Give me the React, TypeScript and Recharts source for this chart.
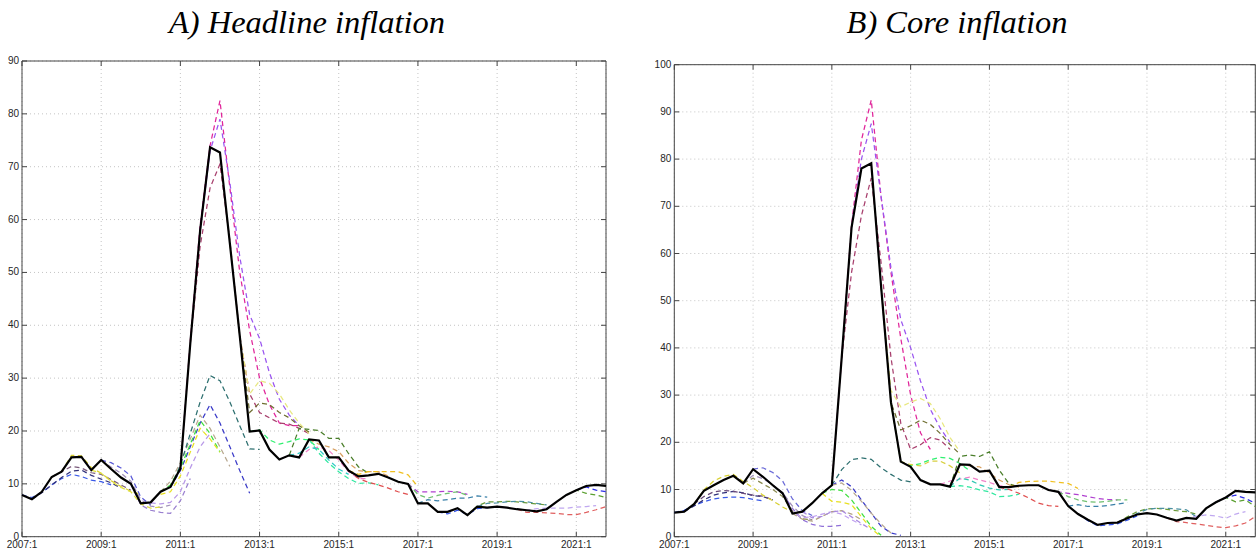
import { LineChart, Line, XAxis, YAxis, CartesianGrid, ReferenceArea } from 'recharts';

// quarters 2007:1 .. 2021:4 -> index 0..59
const tickQuarters = [0, 8, 16, 24, 32, 40, 48, 56];
const tickLabels = ['2007:1', '2009:1', '2011:1', '2013:1', '2015:1', '2017:1', '2019:1', '2021:1'];
const headlineYTicks = [0, 10, 20, 30, 40, 50, 60, 70, 80, 90];
const coreYTicks = [0, 10, 20, 30, 40, 50, 60, 70, 80, 90, 100];

const headlineActual = [
  7.9, 7.1, 8.5, 11.3, 12.3, 15.0, 15.1, 12.6, 14.5, 12.8,
  11.2, 10.0, 6.3, 6.5, 8.5, 9.4, 12.9, 36.5, 58.0, 73.7,
  72.7, 55.5, 38.0, 19.9, 20.1, 16.5, 14.6, 15.4, 15.0, 18.4,
  18.2, 15.0, 15.0, 12.5, 11.4, 11.6, 11.9, 11.2, 10.4, 10.0,
  6.3, 6.3, 4.7, 4.7, 5.4, 4.1, 5.7, 5.5, 5.7, 5.5,
  5.2, 5.0, 4.8, 5.2, 6.6, 7.9, 8.8, 9.6, 9.8, 9.6,
];

const coreActual = [
  5.1, 5.3, 6.9, 9.7, 10.9, 12.0, 12.9, 11.3, 14.3, 12.7,
  10.9, 9.2, 4.9, 5.3, 7.1, 9.2, 10.9, 38.0, 65.5, 78.0,
  79.1, 53.0, 28.5, 15.9, 14.8, 12.0, 11.1, 11.1, 10.6, 15.3,
  15.2, 13.8, 14.0, 10.5, 10.5, 10.8, 10.9, 10.9, 9.9, 9.5,
  6.5, 4.8, 3.6, 2.5, 2.9, 3.0, 3.9, 4.7, 5.0, 4.7,
  4.0, 3.4, 4.0, 3.8, 6.0, 7.3, 8.3, 9.7, 9.5, 9.4,
];

type Forecast = { start: number; values: number[] };

// forecast vintages: first quarter index + path
const headlineForecasts: Forecast[] = [
  { start: 0, values: [7.9, 7.4, 8.4, 9.8, 11.0, 11.8, 11.4, 10.7, 10.4, 9.8] },
  { start: 1, values: [7.1, 8.3, 9.8, 11.2, 12.4, 12.6, 11.6, 10.9, 10.2, 9.2] },
  { start: 3, values: [11.3, 12.3, 13.3, 13.0, 12.1, 11.8, 10.8, 9.8, 8.8] },
  { start: 4, values: [12.3, 15.4, 15.3, 13.1, 12.0, 10.6, 9.5, 8.6, 8.0] },
  { start: 8, values: [14.5, 14.0, 13.0, 11.5, 7.5, 6.0] },
  { start: 8, values: [14.5, 13.2, 12.0, 10.5, 7.0, 5.8, 5.5, 6.0] },
  { start: 7, values: [12.6, 12.0, 10.5, 9.3, 8.5, 6.2, 5.4, 5.6] },
  { start: 11, values: [10.0, 6.0, 5.0, 4.6, 4.4, 6.8, 11.0] },
  { start: 14, values: [8.5, 10.5, 14.0, 18.5, 23.0, 20.5, 17.0, 13.3] },
  { start: 15, values: [9.4, 13.5, 19.5, 25.5, 30.5, 29.5, 25.5, 21.0, 16.6, 16.5] },
  { start: 15, values: [9.4, 12.5, 17.0, 21.5, 25.0, 21.5, 17.0, 12.5, 8.2] },
  { start: 14, values: [8.5, 9.8, 13.0, 17.5, 22.0, 19.5, 16.0] },
  { start: 14, values: [8.0, 8.5, 11.5, 16.0, 20.5, 18.5, 16.0] },
  { start: 13, values: [6.4, 6.2, 6.5, 8.5, 13.0, 17.0, 19.5] },
  { start: 16, values: [12.9, 37.0, 59.0, 74.0, 82.5, 66.0, 50.0, 39.0, 30.0, 25.0, 21.5, 21.0, 21.0] },
  { start: 18, values: [58.0, 73.0, 79.0, 67.0, 53.0, 42.0, 37.5, 31.0, 26.0, 23.0, 21.0] },
  { start: 17, values: [36.5, 55.0, 66.0, 70.5, 56.0, 38.0, 27.0, 23.5, 22.5, 21.5, 21.3, 20.5, 19.5] },
  { start: 21, values: [55.5, 38.0, 27.0, 29.5, 29.0, 27.0, 24.0, 21.5, 19.5] },
  { start: 22, values: [38.0, 23.5, 25.3, 25.0, 23.5, 22.5, 21.0, 19.8] },
  { start: 23, values: [19.9, 20.2, 18.3, 17.5, 18.0, 18.5, 18.3, 16.5] },
  { start: 27, values: [15.4, 20.5, 20.3, 20.1, 18.6, 18.6, 15.7, 13.2, 12.0] },
  { start: 29, values: [18.4, 17.5, 17.0, 16.1, 13.9, 12.5, 12.3, 12.3, 11.5] },
  { start: 28, values: [15.0, 16.5, 17.0, 16.3, 14.5, 12.3, 11.0, 11.0] },
  { start: 29, values: [18.4, 15.8, 13.9, 12.3, 11.0, 10.1, 10.2, 9.8] },
  { start: 27, values: [15.4, 15.8, 17.0, 16.5, 14.5, 12.8, 11.8] },
  { start: 33, values: [12.5, 11.8, 12.3, 12.3, 12.3, 12.3, 11.7, 9.5] },
  { start: 33, values: [12.5, 11.0, 10.3, 9.8, 9.2, 8.5, 8.0] },
  { start: 39, values: [10.0, 8.5, 8.5, 8.5, 8.6, 8.5, 8.0] },
  { start: 39, values: [10.0, 8.0, 7.3, 7.8, 8.2, 8.5, 7.8] },
  { start: 40, values: [6.3, 7.0, 6.8, 7.0, 7.3, 7.3, 7.7, 7.5] },
  { start: 45, values: [4.1, 5.8, 6.6, 6.6, 6.7, 6.6, 6.4, 6.2, 6.0] },
  { start: 46, values: [5.7, 6.3, 6.4, 6.6, 6.7, 6.6, 6.3, 6.0] },
  { start: 42, values: [4.7, 4.3, 5.0, 4.2, 5.3, 5.5, 5.7] },
  { start: 50, values: [5.2, 5.0, 5.3, 5.4, 5.4, 5.4, 5.6, 5.7, 5.9] },
  { start: 50, values: [5.2, 4.6, 4.6, 4.5, 4.4, 4.2, 4.2, 4.6, 5.1, 5.7] },
  { start: 55, values: [7.9, 8.8, 8.2, 7.9, 7.4] },
  { start: 56, values: [8.8, 9.4, 8.8, 8.5] },
];

const coreForecasts: Forecast[] = [
  { start: 0, values: [5.1, 5.6, 6.6, 7.4, 8.0, 8.3, 8.4, 8.3, 7.9, 7.6] },
  { start: 1, values: [5.3, 6.5, 7.8, 8.8, 9.3, 9.6, 9.3, 8.7, 8.5, 7.8] },
  { start: 2, values: [6.9, 8.5, 9.5, 9.8, 9.6, 9.2, 8.8, 8.6, 7.8] },
  { start: 2, values: [6.9, 9.9, 11.8, 12.8, 13.2, 11.7, 10.4, 8.8, 7.6, 6.3, 5.2] },
  { start: 8, values: [14.3, 14.6, 13.6, 11.8, 8.0, 5.5, 4.5] },
  { start: 7, values: [11.3, 13.0, 12.3, 11.0, 9.3, 6.5, 4.5, 3.5] },
  { start: 7, values: [11.3, 12.4, 11.2, 10.0, 8.5, 5.5, 3.8, 3.6] },
  { start: 11, values: [9.2, 6.0, 3.6, 2.6, 2.2, 2.2, 2.4] },
  { start: 11, values: [9.2, 5.2, 4.0, 4.2, 4.8, 5.3, 4.8, 3.6, 2.5] },
  { start: 12, values: [4.9, 3.7, 3.3, 4.3, 5.3, 5.5, 4.8, 3.6] },
  { start: 16, values: [10.9, 14.2, 16.3, 16.7, 16.4, 14.6, 13.2, 12.0, 11.6] },
  { start: 16, values: [10.9, 12.0, 10.6, 7.8, 5.0, 2.2, 0.8, 0.3] },
  { start: 16, values: [10.9, 11.4, 9.8, 7.5, 5.0, 2.7, 0.8] },
  { start: 15, values: [9.2, 10.0, 9.8, 7.8, 5.0, 2.2, 0.3] },
  { start: 15, values: [9.2, 7.5, 7.3, 6.8, 4.2, 1.7, 0.0] },
  { start: 13, values: [5.3, 4.0, 4.3, 5.3, 5.5, 4.2, 2.8, 1.5] },
  { start: 16, values: [10.9, 38.0, 66.0, 84.0, 92.5, 72.0, 56.0, 42.0, 30.0, 22.0, 18.5] },
  { start: 18, values: [65.5, 80.0, 87.5, 72.0, 57.0, 46.0, 40.0, 33.0, 27.0, 23.0, 20.0] },
  { start: 17, values: [38.0, 56.0, 68.0, 76.0, 58.0, 38.0, 24.0, 18.5, 19.5, 21.0, 20.5, 18.5] },
  { start: 21, values: [53.0, 31.0, 27.5, 28.5, 29.3, 28.2, 25.0, 21.0, 18.0] },
  { start: 21, values: [53.0, 28.5, 22.6, 23.5, 24.7, 23.8, 21.9, 19.5, 17.5] },
  { start: 22, values: [28.5, 15.9, 15.0, 15.5, 16.3, 16.8, 16.6, 15.5, 14.0] },
  { start: 22, values: [28.5, 15.9, 15.3, 15.0, 16.0, 16.0, 15.0, 13.5] },
  { start: 28, values: [10.6, 17.0, 17.3, 17.0, 18.0, 14.1, 11.2, 10.5] },
  { start: 29, values: [15.3, 15.0, 14.8, 13.5, 12.0, 11.0, 10.5] },
  { start: 27, values: [11.1, 11.8, 12.2, 12.6, 12.0, 11.5, 10.8, 10.5] },
  { start: 28, values: [10.6, 10.8, 10.5, 9.9, 9.5, 8.5, 8.6, 9.0] },
  { start: 28, values: [10.6, 12.4, 12.0, 11.0, 10.3, 9.9, 10.0] },
  { start: 34, values: [10.5, 11.5, 11.7, 11.8, 11.8, 11.5, 11.3, 10.2] },
  { start: 33, values: [10.5, 10.0, 9.2, 8.2, 7.1, 6.6, 6.4] },
  { start: 38, values: [9.9, 9.5, 9.2, 8.9, 8.5, 8.1, 7.9, 7.8] },
  { start: 39, values: [9.5, 8.5, 7.8, 7.4, 7.3, 7.5, 7.8, 7.8] },
  { start: 40, values: [6.5, 6.8, 6.4, 6.4, 6.6, 6.9, 7.2] },
  { start: 45, values: [3.0, 4.2, 5.3, 5.9, 6.0, 5.8, 5.5, 5.3, 4.8] },
  { start: 46, values: [3.9, 4.9, 5.8, 6.0, 6.0, 5.9, 5.7, 4.2] },
  { start: 41, values: [4.8, 3.4, 2.3, 2.5, 2.7, 3.5, 4.4] },
  { start: 51, values: [3.4, 4.0, 4.3, 4.6, 4.4, 3.9, 4.8, 5.3] },
  { start: 50, values: [4.0, 3.2, 3.0, 2.7, 2.4, 2.1, 1.9, 2.3, 2.9, 4.3] },
  { start: 55, values: [7.3, 8.3, 7.4, 7.8, 6.4] },
  { start: 55, values: [7.3, 8.3, 8.8, 8.1, 7.1] },
];

const headlineColors = [
  '#3a5ae8', '#30307a', '#7a5a7a', '#d8d030', '#5a5ad8', '#a090b8', '#e0e040', '#9a80d0',
  '#b8a890', '#2e7070', '#3a3ac8', '#40e040', '#e8e020', '#b898e8', '#e0259a', '#9a55f0',
  '#a8406e', '#e8e880', '#6e6e30', '#30f070', '#4a7e2a', '#d8a060', '#f080c8', '#30e8a0',
  '#30c8c8', '#f0c020', '#e05050', '#b040d0', '#70c070', '#3a80a8', '#6a9a3a', '#4a90a0',
  '#3050e8', '#c0a8f0', '#e06060', '#5aa030', '#3030e8',
];

const coreColors = [
  '#3a5ae8', '#30307a', '#6a4a7a', '#d8d030', '#6a6ad8', '#a090b8', '#8a8a50', '#9070d8',
  '#c0a0f0', '#b0a080', '#2e7070', '#3a3ac8', '#b8a890', '#40e040', '#e8e020', '#a888e0',
  '#e0259a', '#9a55f0', '#a8406e', '#e8e880', '#6e6e30', '#30f070', '#d8d040', '#4a7e2a',
  '#d8a060', '#f080c8', '#30e8a0', '#30c8b0', '#f0c020', '#e05050', '#b040d0', '#70c070',
  '#3a80a8', '#6a9a3a', '#4a90a0', '#3050e8', '#c0a8f0', '#e06060', '#5aa030', '#3030e8',
];

const H = 554;
const tickFont = { fontFamily: '"Liberation Sans", Arial, sans-serif', fontSize: 10, fill: '#262626' };

function buildRows(actual: number[], forecasts: Forecast[]) {
  return actual.map((v, t) => {
    const row: Record<string, number | null> = { t, actual: v };
    forecasts.forEach((f, i) => {
      const k = t - f.start;
      row['f' + i] = k >= 0 && k < f.values.length ? f.values[k] : null;
    });
    return row;
  });
}

interface PanelProps {
  title: string;
  titleCenter: number;
  left: number;
  width: number;
  margin: { top: number; right: number; bottom: number; left: number };
  actual: number[];
  forecasts: Forecast[];
  colors: string[];
  yTicks: number[];
}

function Panel({ title, titleCenter, left, width, margin, actual, forecasts, colors, yTicks }: PanelProps) {
  const rows = buildRows(actual, forecasts);
  const yMax = yTicks[yTicks.length - 1];
  // axes take 1px each (an axis of size 0 is not drawn)
  const pl = margin.left + 1;
  const pr = width - margin.right;
  const pt = margin.top;
  const pb = H - margin.bottom - 1;

  const xTick = (p: any) => {
    const i = tickQuarters.indexOf(p.payload.value);
    const cx = p.payload.coordinate;
    return (
      <g>
        <line x1={cx} x2={cx} y1={pb} y2={pb - 5} stroke="#444" />
        <line x1={cx} x2={cx} y1={pt} y2={pt + 5} stroke="#444" />
        <text x={p.x} y={p.y} dy="0.71em" textAnchor="middle" {...tickFont}>{tickLabels[i]}</text>
      </g>
    );
  };

  const yTick = (p: any) => {
    const cy = p.payload.coordinate;
    return (
      <g>
        <line x1={pl} x2={pl + 5} y1={cy} y2={cy} stroke="#444" />
        <line x1={pr - 5} x2={pr} y1={cy} y2={cy} stroke="#444" />
        <text x={pl - 3} y={p.y} dy="0.3em" textAnchor="end" {...tickFont}>{p.payload.value}</text>
      </g>
    );
  };

  return (
    <div style={{ position: 'absolute', left, top: 0, width, height: H }}>
      <LineChart width={width} height={H} data={rows} margin={margin}>
        <CartesianGrid stroke="#c4c4c4" strokeDasharray="1 3" />
        <XAxis
          dataKey="t"
          type="number"
          domain={[0, 59]}
          ticks={tickQuarters}
          interval={0}
          height={1}
          tickSize={0}
          tickMargin={4.5}
          axisLine={false}
          tickLine={false}
          tick={xTick}
        />
        <YAxis
          type="number"
          domain={[0, yMax]}
          ticks={yTicks}
          interval={0}
          width={1}
          tickSize={0}
          tickMargin={3}
          axisLine={false}
          tickLine={false}
          tick={yTick}
        />
        {forecasts.map((_, i) => (
          <Line
            key={i}
            dataKey={'f' + i}
            type="linear"
            stroke={colors[i % colors.length]}
            strokeWidth={1.25}
            strokeDasharray="5 3.5"
            dot={false}
            connectNulls={false}
            isAnimationActive={false}
          />
        ))}
        <Line
          dataKey="actual"
          type="linear"
          stroke="#000"
          strokeWidth={2.2}
          dot={false}
          isAnimationActive={false}
        />
        <ReferenceArea x1={0} x2={59} y1={0} y2={yMax} fill="none" stroke="#444" strokeWidth={1} />
      </LineChart>
      <div style={{
        position: 'absolute',
        left: titleCenter - left - 250,
        width: 500,
        top: 4,
        textAlign: 'center',
        fontFamily: '"Liberation Serif", "DejaVu Serif", serif',
        fontStyle: 'italic',
        fontSize: 32.5,
        lineHeight: '36px',
        color: '#000',
      }}>
        {title}
      </div>
    </div>
  );
}

export default function App() {
  return (
    <div style={{ position: 'absolute', left: 0, top: 0, width: 1258, height: H, background: '#fff', overflow: 'hidden' }}>
      <Panel
        title="A) Headline inflation"
        titleCenter={307}
        left={0}
        width={630}
        margin={{ top: 61, right: 24, bottom: 16.3, left: 21 }}
        actual={headlineActual}
        forecasts={headlineForecasts}
        colors={headlineColors}
        yTicks={headlineYTicks}
      />
      <Panel
        title="B) Core inflation"
        titleCenter={957}
        left={630}
        width={628}
        margin={{ top: 64.7, right: 2.7, bottom: 16.3, left: 43.3 }}
        actual={coreActual}
        forecasts={coreForecasts}
        colors={coreColors}
        yTicks={coreYTicks}
      />
    </div>
  );
}
